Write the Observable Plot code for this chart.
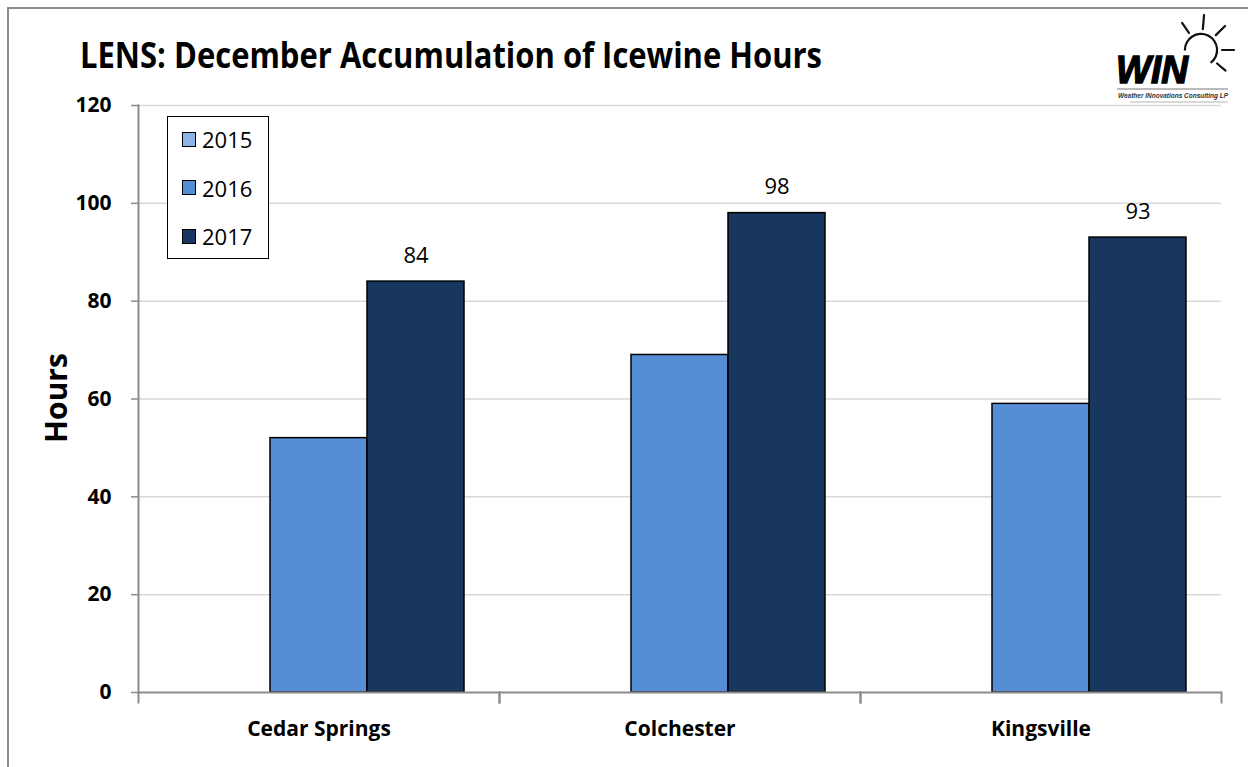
<!DOCTYPE html>
<html><head><meta charset="utf-8">
<script src="https://cdn.jsdelivr.net/npm/d3@7"></script>
<script src="https://cdn.jsdelivr.net/npm/@observablehq/plot@0.6"></script>
<style>
body{margin:0;background:#fff;}
#wrap{position:relative;width:1248px;height:767px;overflow:hidden;font-family:"Open Sans",sans-serif;background:#fff;}
#border{position:absolute;left:7px;top:7px;width:1300px;height:800px;border:2px solid #8c8c8c;box-sizing:border-box;}
#chart{position:absolute;left:0;top:0;}
#overlay{position:absolute;left:0;top:0;pointer-events:none;}
#legend{position:absolute;left:167px;top:116px;width:102px;height:143px;border:1.5px solid #000;background:#fff;box-sizing:border-box;}
.item{position:absolute;left:14px;display:flex;align-items:center;font-size:22px;line-height:1;color:#000;}
.sw{width:12px;height:13px;border:1.5px solid #000;margin-right:6px;}
</style></head>
<body>
<div id="wrap">
  <div id="border"></div>
  <div id="chart"></div>
  <svg id="overlay" width="1248" height="767"></svg>
  <div id="legend"></div>
</div>
<script>
// ---- data ----
const title = "LENS: December Accumulation of Icewine Hours";
const yLabel = "Hours";
const locations = ["Cedar Springs", "Colchester", "Kingsville"];
const years = ["2015", "2016", "2017"];
const values2015 = [null, null, null];
const values2016 = [52, 69, 59];
const values2017 = [84, 98, 93];
const yTicks = [0, 20, 40, 60, 80, 100, 120];
const colors = ["#8eb4e3", "#558ed5", "#17375e"];
const labelYear = "2017";

const series = [values2015, values2016, values2017];
const rows = [];
locations.forEach((loc, i) => years.forEach((yr, j) => {
  const v = series[j][i];
  if (v != null) rows.push({loc, year: yr, value: v});
}));

const W = 1248, H = 767, mT = 105, mB = 75, mL = 137, mR = 27;
const innerH = H - mT - mB;
const axisGray = "#8c8c8c";

const chart = Plot.plot({
  width: W, height: H,
  marginTop: mT, marginBottom: mB, marginLeft: mL, marginRight: mR,
  style: {fontFamily: "'Open Sans', sans-serif", background: "transparent", color: "#000"},
  fx: {domain: locations, padding: 0, label: null},
  x: {domain: years, paddingInner: 0, paddingOuter: 0.36, axis: null},
  y: {domain: [0, 120], label: null},
  color: {domain: years, range: colors},
  marks: [
    Plot.gridY(yTicks.filter(d => d > 0), {stroke: "#d9d9d9", strokeOpacity: 1, strokeWidth: 1.5}),
    Plot.barY(rows, {fx: "loc", x: "year", y: "value", fill: "year", stroke: "#000", strokeWidth: 1.5}),
    Plot.text(rows.filter(d => d.year === labelYear), {fx: "loc", x: "year", y: "value", text: d => String(d.value), dy: -26, fontSize: 22, fill: "#000"}),
    Plot.ruleY([0], {stroke: axisGray, strokeWidth: 2}),
    // category separator ticks below the baseline
    Plot.frame({anchor: "left", stroke: axisGray, strokeWidth: 2, insetTop: innerH, insetBottom: -10}),
    Plot.frame({anchor: "right", stroke: axisGray, strokeWidth: 2, insetTop: innerH, insetBottom: -10}),
    // vertical value-axis line, first facet only
    Plot.frame({anchor: "left", stroke: axisGray, strokeWidth: 2, fx: () => locations[0]}),
    Plot.axisY({ticks: yTicks, tickSize: 7, tickPadding: 20, stroke: axisGray, strokeWidth: 1.5, fill: "#000", fontSize: 21, fontWeight: "bold", label: null}),
    Plot.axisFx({anchor: "bottom", tickSize: 0, tickPadding: 29, fontSize: 21, fontWeight: "bold", label: null, fill: "#000"})
  ]
});
document.getElementById("chart").appendChild(chart);

// overlay texts: title, axis label, logo
const svg = d3.select("#overlay");
svg.append("text").attr("x", 80).attr("y", 68).attr("textLength", 742).attr("lengthAdjust", "spacingAndGlyphs")
  .attr("font-family", "'Open Sans', sans-serif").attr("font-weight", "bold").attr("font-size", 36).attr("fill", "#000").text(title);
svg.append("text").attr("transform", "translate(67,398) rotate(-90)").attr("text-anchor", "middle")
  .attr("font-family", "'Open Sans', sans-serif").attr("font-weight", "bold").attr("font-size", 30).attr("fill", "#000").text(yLabel);

// logo
const logo = svg.append("g");
const cx = 1201, cy = 50, r = 15;
const arc = d3.arc()({innerRadius: r, outerRadius: r + 2.2, startAngle: -1.6, endAngle: 2.5});
logo.append("path").attr("d", arc).attr("transform", `translate(${cx},${cy})`).attr("fill", "#111");
[[-35, 12], [5, 14], [45, 13], [90, 12], [130, 11]].forEach(([a, len]) => {
  const t = (a - 90) * Math.PI / 180;
  logo.append("line")
    .attr("x1", cx + Math.cos(t) * (r + 6)).attr("y1", cy + Math.sin(t) * (r + 6))
    .attr("x2", cx + Math.cos(t) * (r + 6 + len)).attr("y2", cy + Math.sin(t) * (r + 6 + len))
    .attr("stroke", "#111").attr("stroke-width", 2.2).attr("stroke-linecap", "round");
});
logo.append("text").attr("x", 1116).attr("y", 83).attr("textLength", 72).attr("lengthAdjust", "spacingAndGlyphs")
  .attr("font-family", "'Liberation Sans', Arial, sans-serif").attr("font-weight", "900").attr("font-style", "italic")
  .attr("stroke", "#000").attr("stroke-width", 1.4)
  .attr("font-size", 38).attr("fill", "#000").text("WIN");
logo.append("line").attr("x1", 1117).attr("x2", 1228).attr("y1", 89).attr("y2", 89).attr("stroke", "#777").attr("stroke-width", 1);
logo.append("text").attr("x", 1118).attr("y", 98).attr("textLength", 110).attr("lengthAdjust", "spacingAndGlyphs")
  .attr("font-family", "'Liberation Sans', Arial, sans-serif").attr("font-weight", "bold").attr("font-style", "italic")
  .attr("font-size", 6.5).attr("fill", "#333").text("Weather INnovations Consulting LP");
logo.append("line").attr("x1", 1130).attr("x2", 1228).attr("y1", 102).attr("y2", 102).attr("stroke", "#ccc").attr("stroke-width", 1.5);

// legend
const legend = d3.select("#legend");
years.forEach((yr, j) => {
  const it = legend.append("div").attr("class", "item").style("top", (11 + j * 48.5) + "px");
  it.append("div").attr("class", "sw").style("background", colors[j]);
  it.append("span").text(yr);
});
</script>
</body></html>
